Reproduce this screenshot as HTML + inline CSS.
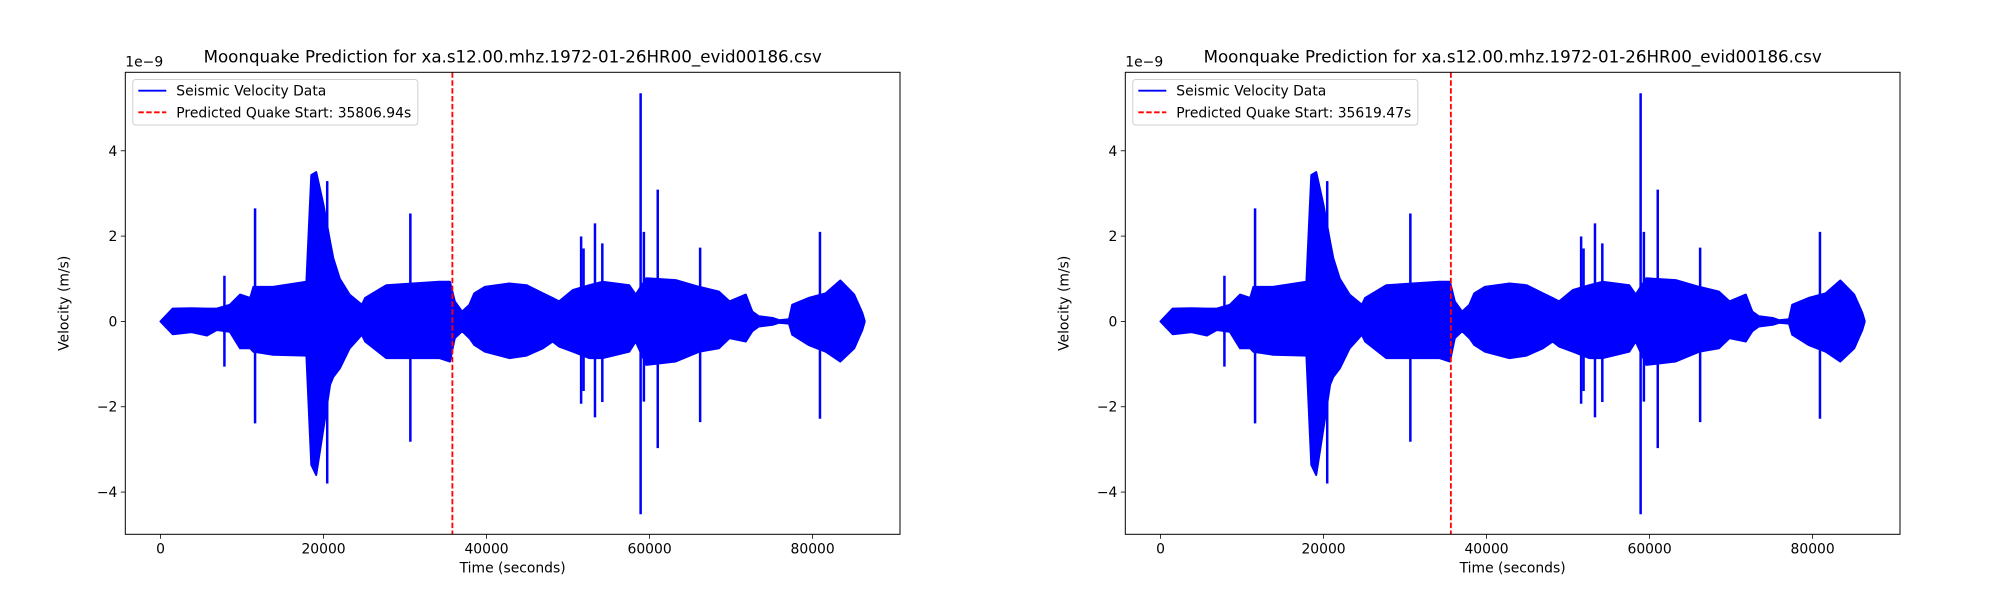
<!DOCTYPE html>
<html><head><meta charset="utf-8"><style>
html,body{margin:0;padding:0;background:#fff;}
svg text{font-family:"DejaVu Sans","Liberation Sans",sans-serif;fill:#000;}
</style></head><body>
<svg id="fig" width="2000" height="600" viewBox="0 0 2000 600" xmlns="http://www.w3.org/2000/svg"></svg>
<script>
// envelope: time (s), upper, lower (x1e-9 m/s)
const envT = [0,1500,3800,5700,6900,8500,9760,11000,11400,13800,17900,18500,19100,20000,20800,21200,22000,23200,24700,25100,27700,34200,35500,36100,37000,37900,38500,39800,42800,44900,46900,48100,48900,50600,52600,54200,57500,58300,59600,63200,66100,68500,69800,71800,72600,73400,75100,75900,77100,77500,79500,81600,83400,85100,86100,86400];
const envUp = [0,0.3,0.31,0.3,0.3,0.39,0.63,0.55,0.81,0.81,0.93,3.43,3.5,2.73,1.87,1.48,1.0,0.63,0.39,0.55,0.85,0.93,0.93,0.47,0.23,0.39,0.66,0.81,0.89,0.85,0.66,0.55,0.47,0.74,0.85,0.93,0.85,0.63,1.01,0.97,0.81,0.7,0.47,0.63,0.23,0.12,0.08,0.03,0.05,0.39,0.55,0.66,0.96,0.63,0.2,0];
const envLo = [0,-0.3,-0.25,-0.33,-0.2,-0.24,-0.63,-0.63,-0.71,-0.78,-0.8,-3.36,-3.6,-2.5,-1.48,-1.3,-1.1,-0.63,-0.31,-0.47,-0.86,-0.86,-0.94,-0.39,-0.23,-0.39,-0.55,-0.71,-0.86,-0.8,-0.63,-0.47,-0.59,-0.71,-0.86,-0.86,-0.71,-0.47,-1.02,-0.94,-0.71,-0.63,-0.39,-0.47,-0.23,-0.12,-0.08,-0.03,-0.05,-0.31,-0.55,-0.71,-0.94,-0.63,-0.2,0];
// spikes: time, max, min
const spikeT = [7840,11600,20450,30650,51600,51900,53300,54200,58900,59300,61000,66200,80900];
const spikeMax = [1.07,2.65,3.29,2.53,1.99,1.71,2.3,1.83,5.35,2.1,3.09,1.73,2.1];
const spikeMin = [-1.06,-2.39,-3.8,-2.82,-1.93,-1.63,-2.25,-1.89,-4.52,-1.88,-2.97,-2.36,-2.28];
const predicted = [35806.94, 35619.47];
const xTicks = [0,20000,40000,60000,80000];
const yTicks = [-4,-2,0,2,4];
const yTickLabels = ["\u22124","\u22122","0","2","4"];
const titleText = "Moonquake Prediction for xa.s12.00.mhz.1972-01-26HR00_evid00186.csv";

const NS="http://www.w3.org/2000/svg";
const svg=document.getElementById('fig');
function mk(tag,attrs,parent){const e=document.createElementNS(NS,tag);for(const k in attrs)e.setAttribute(k,attrs[k]);(parent||svg).appendChild(e);return e;}

function panel(ox, pi){
  const L=125.3+ox,R=900+ox,T=72.3,B=534.3;
  const xMin=-4320,xMax=90720,yMin=-4.99,yMax=5.84;
  const sx=v=>L+(v-xMin)/(xMax-xMin)*(R-L);
  const sy=v=>B-(v-yMin)/(yMax-yMin)*(B-T);
  const g=mk('g',{});
  
  
  let d='';
  for(let i=0;i<envT.length;i++) d+=(i?'L':'M')+sx(envT[i]).toFixed(1)+','+sy(envUp[i]).toFixed(1);
  for(let i=envT.length-1;i>=0;i--) d+='L'+sx(envT[i]).toFixed(1)+','+sy(envLo[i]).toFixed(1);
  d+='Z';
  const env=mk('path',{d:d,fill:'#0000ff',stroke:'#0000ff','stroke-width':2,'stroke-linejoin':'round'},g);
  
  
  for(let i=0;i<spikeT.length;i++){
    const s=mk('line',{x1:sx(spikeT[i]),x2:sx(spikeT[i]),y1:sy(spikeMax[i]),y2:sy(spikeMin[i]),stroke:'#0000ff','stroke-width':2.5},g);
    
    
  }
  const pl=mk('line',{x1:sx(predicted[pi]),x2:sx(predicted[pi]),y1:T,y2:B,stroke:'#ff0000','stroke-width':1.8,'stroke-dasharray':'5.5,2.4'},g);
  
  
  const fr=mk('rect',{x:L,y:T,width:R-L,height:B-T,fill:'none',stroke:'#000','stroke-width':1},g);
  
  
  xTicks.forEach(v=>{
    const x=sx(v);
    const t=mk('line',{x1:x,x2:x,y1:B,y2:B+4.5,stroke:'#000','stroke-width':0.8},g);
    
    
    const tx=mk('text',{x:x,y:B+19,'font-size':13.9,'text-anchor':'middle'},g);
    tx.textContent=String(v);
    
    
  });
  yTicks.forEach((v,i)=>{
    const y=sy(v);
    const t=mk('line',{x1:L-4.5,x2:L,y1:y,y2:y,stroke:'#000','stroke-width':0.8},g);
    
    
    const tx=mk('text',{x:L-8,y:y+5,'font-size':13.9,'text-anchor':'end'},g);
    tx.textContent=yTickLabels[i];
    
    
  });
  const off=mk('text',{x:L,y:T-6,'font-size':13.9},g);
  off.textContent='1e\u22129';
  
  
  const ti=mk('text',{x:(L+R)/2,y:T-10,'font-size':16.7,'text-anchor':'middle'},g);
  ti.textContent=titleText;
  
  
  const xl=mk('text',{x:(L+R)/2,y:B+38,'font-size':13.9,'text-anchor':'middle'},g);
  xl.textContent='Time (seconds)';
  
  
  const yl=mk('text',{x:0,y:0,'font-size':13.9,'text-anchor':'middle',transform:'translate('+(L-57)+','+((T+B)/2)+') rotate(-90)'},g);
  yl.textContent='Velocity (m/s)';
  
  
  const lg=mk('g',{},g);
  
  
  mk('rect',{x:L+7.5,y:79.5,width:285,height:45.5,rx:3,fill:'#fff','fill-opacity':0.8,stroke:'#d0d0d0','stroke-width':1},lg);
  const l1=mk('line',{x1:L+13,x2:L+41,y1:90.7,y2:90.7,stroke:'#0000ff','stroke-width':1.8},lg);
  
  
  const t1=mk('text',{x:L+51,y:95.7,'font-size':13.9},lg);
  t1.textContent='Seismic Velocity Data';
  
  
  const l2=mk('line',{x1:L+13,x2:L+41,y1:112.3,y2:112.3,stroke:'#ff0000','stroke-width':1.8,'stroke-dasharray':'5.5,2.4'},lg);
  
  
  const t2=mk('text',{x:L+51,y:117.3,'font-size':13.9},lg);
  t2.textContent='Predicted Quake Start: '+predicted[pi].toFixed(2)+'s';
  
  
}
panel(0,0);
panel(1000,1);
</script>
</body></html>
